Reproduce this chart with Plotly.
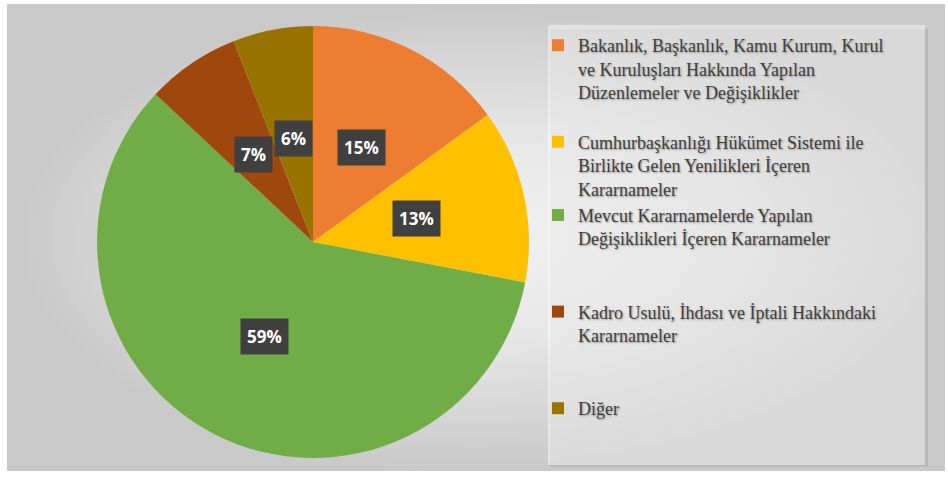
import math
import plotly.graph_objects as go

labels = [
    "Bakanlık, Başkanlık, Kamu Kurum, Kurul<br>ve Kuruluşları Hakkında Yapılan<br>Düzenlemeler ve Değişiklikler<br>",
    "Cumhurbaşkanlığı Hükümet Sistemi ile<br>Birlikte Gelen Yenilikleri İçeren<br>Kararnameler",
    "Mevcut Kararnamelerde Yapılan<br>Değişiklikleri İçeren Kararnameler<br><br>",
    "Kadro Usulü, İhdası ve İptali Hakkındaki<br>Kararnameler<br><br>",
    "Diğer",
]
values = [15, 13, 59, 7, 6]
colors = ["#ED7D31", "#FFC000", "#70AD47", "#9E480E", "#997300"]

W, H = 948, 477
# pie placement in pixels
cx, cy, r = 313, 242, 216

fig = go.Figure()

# background panel with soft radial gradient
fig.add_trace(go.Scatter(
    x=[7, 945, 945, 7, 7], y=[4, 4, 471, 471, 4],
    fill="toself", mode="lines", line=dict(width=0),
    fillgradient=dict(type="radial",
                      colorscale=[[0, "#f2f2f2"], [0.45, "#e6e6e6"], [1, "#c9c9c9"]]),
    hoverinfo="skip", showlegend=False,
))

fig.add_trace(go.Pie(
    labels=labels, values=values,
    marker=dict(colors=colors, line=dict(width=0)),
    sort=False, direction="clockwise", rotation=0,
    textinfo="none",
    domain=dict(x=[(cx - r) / W, (cx + r) / W],
                y=[(H - cy - r) / H, (H - cy + r) / H]),
))

# legend panel with a light shadow
fig.add_shape(type="rect", xref="paper", yref="paper",
              x0=550 / W, x1=928 / W, y0=1 - 467 / H, y1=1 - 29 / H,
              fillcolor="rgba(0,0,0,0.07)", line=dict(width=0), layer="above")
fig.add_shape(type="rect", xref="paper", yref="paper",
              x0=548 / W, x1=925 / W, y0=1 - 465 / H, y1=1 - 25 / H,
              fillcolor="rgba(255,255,255,0.45)", line=dict(width=0), layer="above")

# percent labels in dark boxes at half radius
total = sum(values)
cum = 0
for v in values:
    ang = 2 * math.pi * (cum + v / 2) / total
    cum += v
    px_ = cx + 0.49 * r * math.sin(ang)
    py_ = cy - 0.49 * r * math.cos(ang)
    fig.add_annotation(
        x=px_ / W, y=1 - py_ / H, xref="paper", yref="paper",
        xanchor="center", yanchor="middle",
        text=f"{round(100 * v / total)}%", showarrow=False,
        font=dict(family="Open Sans", size=17, color="white", weight="bold"),
        bgcolor="#404040", borderpad=6,
    )

fig.update_layout(
    width=W, height=H,
    margin=dict(l=0, r=0, t=0, b=0),
    paper_bgcolor="white", plot_bgcolor="rgba(0,0,0,0)",
    xaxis=dict(range=[0, W], visible=False, fixedrange=True),
    yaxis=dict(range=[H, 0], visible=False, fixedrange=True),
    legend=dict(
        x=538 / W, y=1 - 27 / H, xanchor="left", yanchor="top",
        bgcolor="rgba(0,0,0,0)", valign="top",
        font=dict(family="Liberation Serif", size=18, color="#404040",
                  shadow="1px 1px 2px #9a9a9a"),
    ),
)

fig.write_html("out.html", config={"displayModeBar": False},
               post_script="document.body.style.margin='0';")
